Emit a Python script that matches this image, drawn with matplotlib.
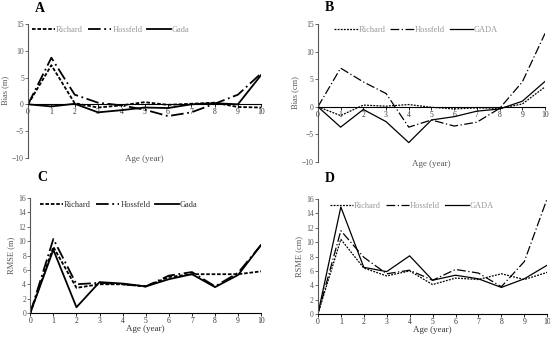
import numpy as np
import matplotlib.pyplot as plt

plt.rcParams['font.family'] = ['Liberation Serif', 'DejaVu Serif']

ages = np.arange(0, 11)

# Panel A: Bias (m)
a_richard = [0, 7.3, 0.2, -0.6, -0.2, 0.4, -0.1, 0.1, 0.3, -0.5, -0.6]
a_hossfeld = [0, 8.7, 1.8, 0.3, -0.2, -1.0, -2.2, -1.5, 0.1, 1.8, 5.8]
a_gada = [0, -0.4, 0.1, -1.5, -1.1, -0.6, -0.7, 0.0, 0.2, 0.0, 5.5]

# Panel B: Bias (cm)
b_richard = [0, -1.6, 0.3, 0.1, 0.4, -0.1, -0.4, -0.2, -0.3, 0.5, 3.6]
b_hossfeld = [0, 7.0, 4.5, 2.4, -3.7, -2.4, -3.5, -2.8, -0.3, 4.5, 13.3]
b_gada = [0, -3.7, -0.5, -2.7, -6.5, -2.4, -1.8, -0.8, -0.4, 1.0, 4.6]

# Panel C: RMSE (m)
c_richard = [0, 9.2, 3.5, 4.0, 4.0, 3.7, 5.0, 5.4, 5.4, 5.4, 5.8]
c_hossfeld = [0, 10.3, 4.0, 4.2, 4.0, 3.7, 5.2, 5.7, 3.7, 5.6, 9.5]
c_gada = [0, 8.8, 0.8, 4.3, 4.1, 3.7, 4.7, 5.4, 3.6, 5.3, 9.5]

# Panel D: RSME (cm)
d_richard = [0, 10.4, 6.4, 5.3, 6.0, 4.1, 5.0, 4.8, 5.6, 4.8, 5.8]
d_hossfeld = [0, 11.6, 7.9, 5.6, 6.1, 4.7, 6.2, 5.7, 3.8, 7.3, 16.1]
d_gada = [0, 14.9, 6.5, 5.9, 8.1, 4.7, 5.4, 4.9, 3.7, 4.9, 6.8]

fig = plt.figure(figsize=(5.5, 3.38), dpi=100)

# label, axes rect, series, names, ylabel, ylim, step, zero axis, lw, legend colour, legend x
panels = [
    ('A', [0.051, 0.533, 0.424, 0.396], a_richard, a_hossfeld, a_gada,
     ['Richard', 'Hossfeld', 'Gada'], 'Bias (m)', (-10, 15), 5, True, 1.3, '#999999', -0.005),
    ('B', [0.578, 0.521, 0.413, 0.408], b_richard, b_hossfeld, b_gada,
     ['Richard', 'Hossfeld', 'GADA'], 'Bias (cm)', (-10, 15), 5, True, 0.9, '#999999', 0.05),
    ('C', [0.055, 0.074, 0.420, 0.340], c_richard, c_hossfeld, c_gada,
     ['Richard', 'Hossfeld', 'Gada'], 'RMSE (m)', (0, 16), 2, False, 1.3, '#333333', 0.02),
    ('D', [0.578, 0.071, 0.417, 0.340], d_richard, d_hossfeld, d_gada,
     ['Richard', 'Hossfeld', 'GADA'], 'RSME (cm)', (0, 16), 2, False, 0.9, '#999999', 0.03),
]

for label, pos, r, h, g, names, ylab, ylim, ystep, zero_axis, lw, legc, legx in panels:
    ax = fig.add_axes(pos)
    dash_r = (0, (2, 1)) if lw > 1 else (0, (1.5, 1))
    ax.plot(ages, r, color='black', lw=lw, linestyle=dash_r, label=names[0])
    ax.plot(ages, h, color='black', lw=lw, linestyle=(0, (7, 2, 1, 2)), label=names[1])
    ax.plot(ages, g, color='black', lw=lw, linestyle='-', label=names[2])
    ax.set_xlim(0, 10)
    ax.set_ylim(*ylim)
    ax.set_xticks(ages)
    ax.set_yticks(np.arange(ylim[0], ylim[1] + 1, ystep))
    for s in ['top', 'right']:
        ax.spines[s].set_visible(False)
    ax.spines['left'].set_color('#555555')
    ax.spines['bottom'].set_color('black')
    if zero_axis:
        ax.spines['bottom'].set_position(('data', 0))
        ax.text(5, ylim[0] - 0.3, 'Age (year)', ha='center', va='center', fontsize=6.5, color='#555555')
    else:
        ax.set_xlabel('Age (year)', fontsize=6.5, color='#333333', labelpad=0)
    ax.set_ylabel(ylab, fontsize=6, color='#555555', labelpad=2)
    ax.tick_params(axis='both', labelsize=5.5, length=2, width=0.6, pad=1, colors='#555555')
    ax.tick_params(axis='x', colors='black', labelcolor='#333333')
    leg = ax.legend(loc='upper left', bbox_to_anchor=(legx, 1.02), ncol=3, frameon=False,
                    fontsize=6, handlelength=2.8, columnspacing=0.6, handletextpad=0.1,
                    borderaxespad=0.2)
    for t in leg.get_texts():
        t.set_color(legc)
    ax.text(0.03, 1.07 if zero_axis else 1.12, label, transform=ax.transAxes,
            fontsize=10, fontweight='bold', ha='left', va='bottom')

fig.savefig('out.png', dpi=100)
